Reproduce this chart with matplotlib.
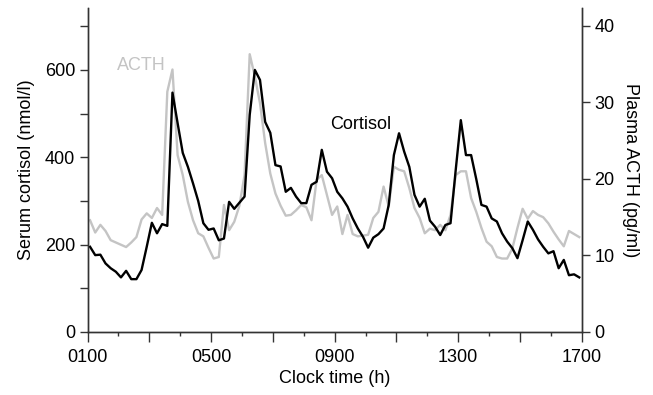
import numpy as np
import matplotlib
matplotlib.use('Agg')
import matplotlib.pyplot as plt
from matplotlib.ticker import FixedLocator, FixedFormatter

# Sampling times, minutes after midnight (every 10 min)
minutes = np.arange(65, 1016, 10)

# Serum cortisol (nmol/l)
cortisol = [195, 176, 177, 157, 146, 138, 125, 140, 121, 121,
            142, 195, 250, 226, 247, 243, 548, 478, 410, 378,
            340, 300, 249, 234, 237, 210, 214, 298, 282, 296,
            310, 497, 600, 577, 481, 456, 382, 379, 321, 330,
            310, 295, 295, 337, 344, 417, 367, 352, 321, 306,
            287, 260, 237, 218, 193, 216, 224, 237, 291, 405,
            455, 413, 378, 314, 287, 305, 255, 241, 222, 245,
            249, 370, 485, 405, 405, 350, 291, 287, 260, 253,
            226, 207, 192, 169, 210, 253, 234, 212, 195, 180,
            185, 146, 165, 130, 132, 125]

# Plasma ACTH (pg/ml)
acth = [14.6, 13.0, 14.0, 13.2, 12.0, 11.7, 11.4, 11.1, 11.7, 12.4,
        14.7, 15.5, 14.9, 16.2, 15.3, 31.4, 34.3, 23.1, 20.5, 17.0,
        14.6, 12.9, 12.5, 11.0, 9.6, 9.8, 16.6, 13.3, 14.4, 16.5,
        20.5, 36.3, 33.4, 29.9, 24.7, 20.7, 18.1, 16.5, 15.2, 15.3,
        15.9, 16.6, 16.3, 14.6, 19.9, 20.5, 17.9, 15.3, 16.4, 12.8,
        15.3, 12.8, 12.5, 12.6, 12.7, 14.9, 15.7, 19.0, 16.4, 21.6,
        21.2, 21.0, 18.8, 16.2, 14.9, 12.9, 13.5, 13.3, 14.0, 13.3,
        15.3, 20.5, 21.0, 21.0, 17.5, 15.7, 13.6, 11.8, 11.2, 9.8,
        9.6, 9.6, 10.9, 13.6, 16.1, 14.8, 15.8, 15.3, 15.0, 14.2,
        13.1, 12.1, 11.2, 13.2, 12.8, 12.4]

x_ticks = [1, 3, 5, 7, 9, 11, 13, 15, 17]
x_labels = ['0100', '', '0500', '', '0900', '', '1300', '', '1700']
left_ticks = [0, 100, 200, 300, 400, 500, 600, 700]
left_labels = ['0', '', '200', '', '400', '', '600', '']
right_ticks = [0, 10, 20, 30, 40]


def main():
    plt.rcParams['font.family'] = ['Liberation Sans', 'DejaVu Sans']
    plt.rcParams['font.size'] = 13

    hours = minutes / 60.0

    fig = plt.figure(figsize=(6.53, 3.95), dpi=100)
    ax = fig.add_axes([0.134, 0.1595, 0.757, 0.8205])
    ax2 = ax.twinx()

    # ACTH in grey behind, cortisol in black on top
    ax2.plot(hours, acth, color='#c4c4c4', lw=1.7)
    ax.plot(hours, cortisol, color='black', lw=1.7)
    ax.set_zorder(ax2.get_zorder() + 1)
    ax.patch.set_visible(False)

    ax.set_xlim(1, 17)
    ax.set_ylim(0, 742)
    ax2.set_ylim(0, 42.35)

    ax.xaxis.set_major_locator(FixedLocator(x_ticks))
    ax.xaxis.set_major_formatter(FixedFormatter(x_labels))
    ax.xaxis.set_minor_locator(FixedLocator(range(1, 18)))
    ax.yaxis.set_major_locator(FixedLocator(left_ticks))
    ax.yaxis.set_major_formatter(FixedFormatter(left_labels))
    ax2.set_yticks(right_ticks)

    for a in (ax, ax2):
        a.spines['top'].set_visible(False)
        for s in a.spines.values():
            s.set_color('#333333')
            s.set_linewidth(1.0)
        a.tick_params(direction='out', length=6, width=1.0, color='#333333', pad=3)
    ax.tick_params(axis='x', which='major', length=7, pad=5)
    ax.tick_params(axis='x', which='minor', direction='out', length=3, width=1.0, color='#333333')

    ax.set_xlabel('Clock time (h)', labelpad=3)
    ax.set_ylabel('Serum cortisol (nmol/l)', labelpad=7)
    ax2.set_ylabel('Plasma ACTH (pg/ml)', rotation=270, labelpad=18)

    ax.text(2.73, 611, 'ACTH', color='#c4c4c4', ha='center', va='center')
    ax.text(9.85, 476, 'Cortisol', color='black', ha='center', va='center')

    fig.savefig('out.png', dpi=100)


if __name__ == '__main__':
    main()
